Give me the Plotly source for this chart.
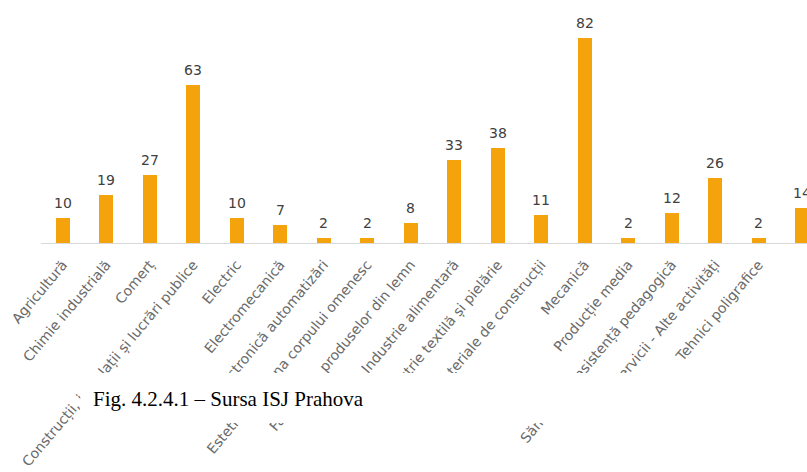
import plotly.graph_objects as go

categories = [
    "Agricultură", "Chimie industrială", "Comerț",
    "Construcții, instalații și lucrări publice", "Electric", "Electromecanică",
    "Electronică automatizări", "Estetica și igiena corpului omenesc",
    "Fabricarea produselor din lemn", "Industrie alimentară",
    "Industrie textilă și pielărie", "Materiale de construcții", "Mecanică",
    "Producție media", "Sănătate și asistență pedagogică",
    "Servicii - Alte activități", "Tehnici poligrafice", "Turism și alimentație",
]
values = [10, 19, 27, 63, 10, 7, 2, 2, 8, 33, 38, 11, 82, 2, 12, 26, 2, 14]
caption = "Fig. 4.2.4.1 – Sursa ISJ Prahova"

W, H = 807, 472
left = 40.75
plot_bottom = 243
plot_w = W - left
cat_w = 43.5
unit_px = 2.504

fig = go.Figure()
fig.add_trace(go.Bar(
    x=list(range(len(categories))), y=values,
    marker=dict(color="#F4A30C", line=dict(width=0)),
    width=14 / cat_w,
    hoverinfo="skip",
))

for i, v in enumerate(values):
    fig.add_annotation(
        x=i, y=v, text=str(v), showarrow=False, yanchor="bottom",
        yshift=5, font=dict(family="DejaVu Sans", size=14, color="#404040"),
    )

def px_x(p):
    return (p - left) / plot_w

def px_y(p):
    return (plot_bottom - p) / plot_bottom

fig.add_shape(type="rect", xref="paper", yref="paper",
              x0=px_x(80), x1=px_x(830), y0=px_y(373), y1=px_y(423),
              fillcolor="white", line=dict(width=0), layer="above")
fig.add_annotation(xref="paper", yref="paper", x=px_x(91), y=px_y(399),
                   xanchor="left", yanchor="middle", text=caption, showarrow=False,
                   font=dict(family="Liberation Serif", size=21, color="black"))

fig.update_layout(
    width=W, height=H,
    margin=dict(l=left, r=0, t=0, b=H - plot_bottom, pad=0),
    paper_bgcolor="white", plot_bgcolor="white",
    showlegend=False,
    bargap=0,
    xaxis=dict(
        range=[-0.5, -0.5 + plot_w / cat_w],
        tickmode="array", tickvals=list(range(len(categories))), ticktext=categories,
        tickangle=-50, showgrid=False, zeroline=False,
        showline=True, linecolor="#d9d9d9", linewidth=1,
        ticks="", automargin=False, ticklabelstandoff=7,
        tickfont=dict(family="DejaVu Sans", size=14, color="#6a6a6a"),
    ),
    yaxis=dict(range=[0, plot_bottom / unit_px], visible=False, automargin=False),
)

fig.write_html("out.html", config={"displayModeBar": False},
               post_script="document.body.style.margin='0';")
